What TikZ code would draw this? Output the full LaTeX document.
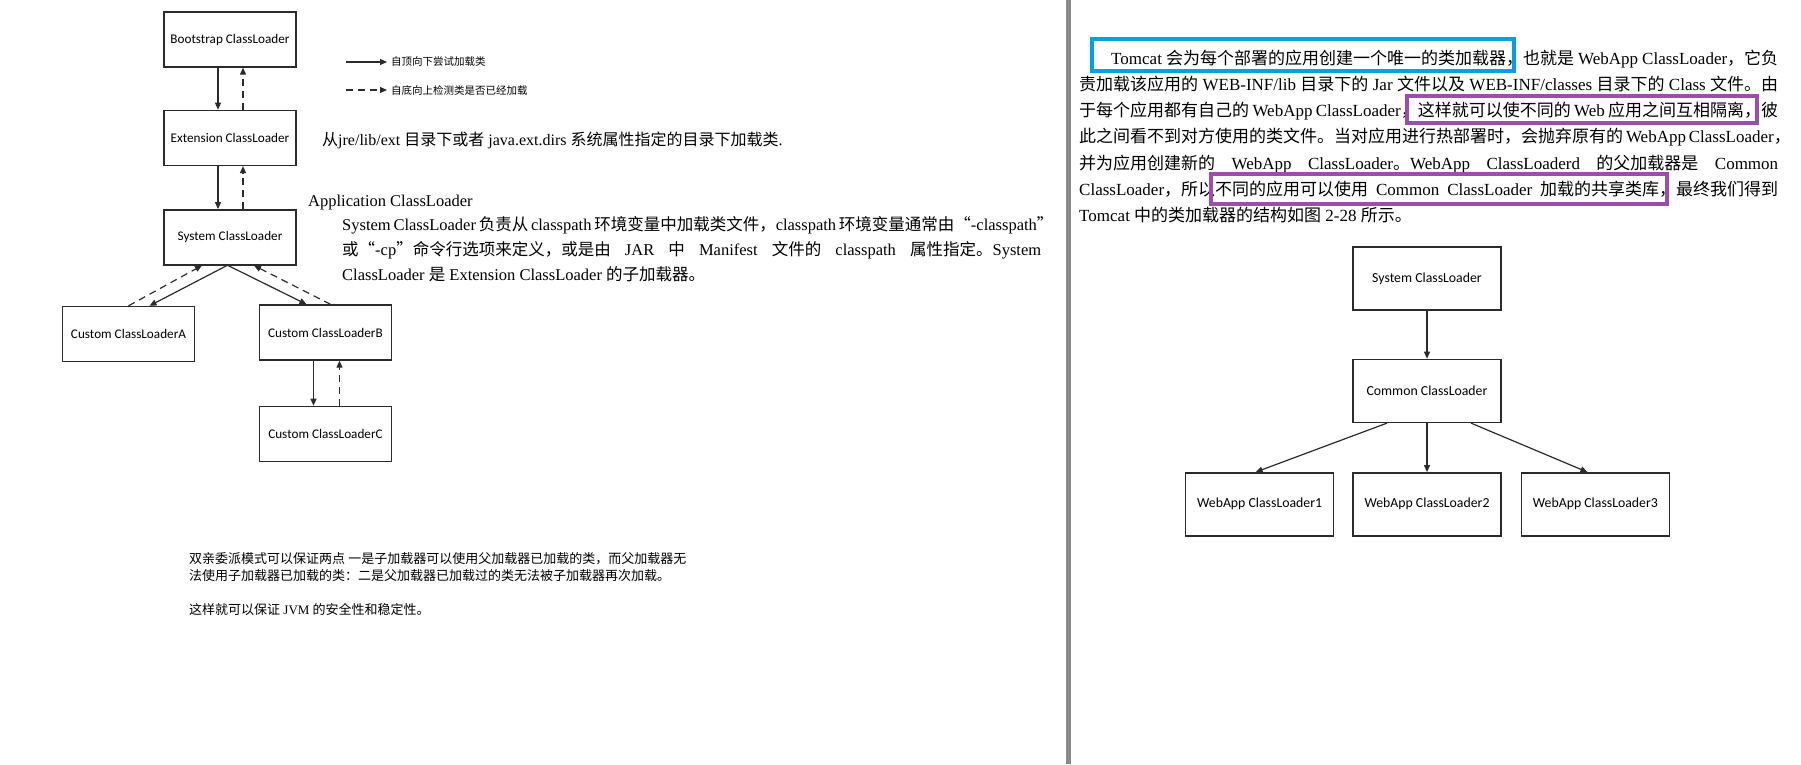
\documentclass[tikz,border=0pt]{standalone}
\usepackage{fontspec}
\setmainfont{Liberation Serif}
\newfontfamily\cjk{Noto Sans CJK SC}
\newfontfamily\boxfont{Carlito}
\usetikzlibrary{arrows.meta, positioning}
% Chinese characters switch to the CJK font by themselves
\XeTeXinterchartokenstate=1
\newXeTeXintercharclass\cjkcls
\newcount\cjkc
\def\markcjk#1#2{\cjkc=#1 \loop \XeTeXcharclass\cjkc=\cjkcls \ifnum\cjkc<#2 \advance\cjkc by 1 \repeat}
\markcjk{"4E00}{"9FFF}
\markcjk{"3000}{"303F}
\markcjk{"FF00}{"FFEF}
\markcjk{"201C}{"201D}
\def\latinfont{\rmfamily}
\XeTeXinterchartoks 0 \cjkcls = {\cjk}
\XeTeXinterchartoks 4095 \cjkcls = {\cjk}
\XeTeXinterchartoks \cjkcls 0 = {\latinfont}
\XeTeXinterchartoks \cjkcls 4095 = {\latinfont}
\newcommand\fullline[1]{\hbox to 699pt{#1}}
\definecolor{boxline}{HTML}{2B2B2B}
\definecolor{hlblue}{HTML}{00A0E9}
\definecolor{hlpurple}{HTML}{9B4FA8}
\definecolor{divgray}{HTML}{8A8A8A}
\tikzset{
  ldbox/.style  = {draw=boxline, line width=1.4pt, minimum width=132pt, minimum height=55pt,
                   inner sep=0pt, font=\boxfont\fontsize{13.2pt}{15pt}\selectfont},
  rdbox/.style  = {ldbox, minimum width=148pt, minimum height=63pt,
                   font=\boxfont\fontsize{13.8pt}{16pt}\selectfont},
  load/.style   = {-{Triangle[length=7pt, width=6pt]}, line width=1.2pt, draw=boxline},
  check/.style  = {load, dash pattern=on 7pt off 5pt},
  para/.style   = {anchor=base west, inner sep=0pt, font=\fontsize{16.5pt}{20pt}\selectfont},
  rpara/.style  = {para, font=\fontsize{17pt}{20pt}\selectfont},
  legend/.style = {anchor=west, inner sep=0pt, font=\cjk\fontsize{10.5pt}{12pt}\selectfont},
  summary/.style= {anchor=base west, inner sep=0pt, font=\cjk\fontsize{13pt}{15pt}\selectfont},
}

\begin{document}
\begin{tikzpicture}[x=1pt, y=-1pt, node distance=42pt and 18pt]
  \useasboundingbox[fill=white] (0,0) rectangle (1801,764);

  % left: parent delegation
  \node[ldbox] (boot) at (230,39.5) {Bootstrap ClassLoader};
  \node[ldbox, below=42pt of boot] (ext) {Extension ClassLoader};
  \node[ldbox, below=43pt of ext]  (sys) {System ClassLoader};
  \node[ldbox] (cla) at (128.5,334) {Custom ClassLoaderA};
  \node[ldbox] (clb) at (325.5,332.5) {Custom ClassLoaderB};
  \node[ldbox, below=45pt of clb]  (clc) {Custom ClassLoaderC};

  \draw[load]  ([xshift=-12]boot.south) -- ([xshift=-12]ext.north);
  \draw[check] ([xshift=13]ext.north)   -- ([xshift=13]boot.south);
  \draw[load]  ([xshift=-12]ext.south)  -- ([xshift=-12]sys.north);
  \draw[check] ([xshift=13]sys.north)   -- ([xshift=13]ext.south);
  \draw[load]  ([xshift=-3]sys.south)   -- ([xshift=21]cla.north);
  \draw[check] (cla.north)              -- ([xshift=-28]sys.south);
  \draw[load]  ([xshift=-2]sys.south)   -- ([xshift=-19]clb.north);
  \draw[check] ([xshift=5]clb.north)    -- ([xshift=24]sys.south);
  \draw[load]  ([xshift=-12]clb.south)  -- ([xshift=-12]clc.north);
  \draw[check] ([xshift=14]clc.north)   -- ([xshift=14]clb.south);

  % legend
  \node[legend] (legdown) at (391,62) {自顶向下尝试加载类};
  \node[legend] (legup)   at (391,90) {自底向上检测类是否已经加载};
  \coordinate (lgdown) at (346,62);
  \coordinate (lgup)   at (346,90);
  \draw[load]  (lgdown) -- ([xshift=-4]legdown.west);
  \draw[check] (lgup)   -- ([xshift=-4]legup.west);

  \node[para, font=\fontsize{16pt}{20pt}\selectfont] (extnote) at (322,145) {从jre/lib/ext 目录下或者 java.ext.dirs 系统属性指定的目录下加载类.};
  \node[para] (appname) at (308,206) {Application ClassLoader};
  \node[para] (sysa) at (342,230) {\fullline{System ClassLoader 负责从 classpath 环境变量中加载类文件，classpath 环境变量通常由“-classpath”}};
  \node[para] (sysb) at (342,255) {\fullline{或“-cp”命令行选项来定义，或是由 JAR 中 Manifest 文件的 classpath 属性指定。System}};
  \node[para] (sysc) at (342,280) {ClassLoader 是 Extension ClassLoader 的子加载器。};

  \node[summary] (suma) at (189,563) {双亲委派模式可以保证两点 一是子加载器可以使用父加载器已加载的类，而父加载器无};
  \node[summary] (sumb) at (189,580) {法使用子加载器已加载的类：二是父加载器已加载过的类无法被子加载器再次加载。};
  \node[summary] (sumc) at (189,614) {这样就可以保证 JVM 的安全性和稳定性。};

  % page divider
  \fill[divgray] (1066,0) rectangle (1071,764);

  % right: tomcat text
  \node[rpara] (tca) at (1111,64) {\hbox to 667pt{Tomcat 会为每个部署的应用创建一个唯一的类加载器，也就是 WebApp ClassLoader，它负}};
  \node[rpara] (tcb) at (1079,90) {\fullline{责加载该应用的 WEB-INF/lib 目录下的 Jar 文件以及 WEB-INF/classes 目录下的 Class 文件。由}};
  \node[rpara] (tcc) at (1079,116.5) {\fullline{于每个应用都有自己的 WebApp ClassLoader，这样就可以使不同的 Web 应用之间互相隔离，彼}};
  \node[rpara] (tcd) at (1079,142.5) {\fullline{此之间看不到对方使用的类文件。当对应用进行热部署时，会抛弃原有的 WebApp ClassLoader，}};
  \node[rpara] (tce) at (1079,169) {\fullline{并为应用创建新的 WebApp ClassLoader。WebApp ClassLoaderd 的父加载器是 Common}};
  \node[rpara] (tcf) at (1079,195) {\fullline{ClassLoader，所以不同的应用可以使用 Common ClassLoader 加载的共享类库，最终我们得到}};
  \node[rpara] (tcg) at (1079,221) {Tomcat 中的类加载器的结构如图 2-28 所示。};

  \draw[hlblue, line width=4pt]   (1092,39) rectangle (1514,71);
  \draw[hlpurple, line width=3.5pt] (1407,96) rectangle (1757,123);
  \draw[hlpurple, line width=3.5pt] (1211,174) rectangle (1667,204);

  % right: tomcat loaders
  \node[rdbox] (rsys) at (1427,278.5) {System ClassLoader};
  \node[rdbox, below=48pt of rsys] (rcom) {Common ClassLoader};
  \node[rdbox, below=49pt of rcom] (web2) {WebApp ClassLoader2};
  \node[rdbox, left=of web2]  (web1) {WebApp ClassLoader1};
  \node[rdbox, right=19pt of web2] (web3) {WebApp ClassLoader3};

  \draw[load] (rsys) -- (rcom);
  \draw[load] (rcom) -- (web2);
  \draw[load] ([xshift=-40]rcom.south) -- ([xshift=-4]web1.north);
  \draw[load] ([xshift=44]rcom.south)  -- ([xshift=-8]web3.north);
\end{tikzpicture}
\end{document}
